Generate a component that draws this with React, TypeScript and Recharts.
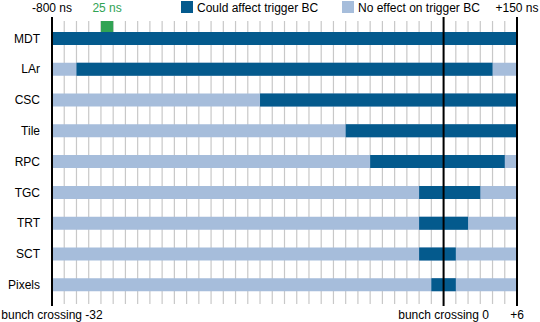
import React from "react";
import {
  BarChart,
  Bar,
  XAxis,
  YAxis,
  CartesianGrid,
  ReferenceLine,
} from "recharts";

const detectors = ["MDT", "LAr", "CSC", "Tile", "RPC", "TGC", "TRT", "SCT", "Pixels"];
// bunch crossings where the detector could affect the trigger BC
const affectStart = [-32, -30, -15, -8, -6, -2, -2, -2, -1];
const affectEnd = [6, 4, 6, 6, 5, 3, 2, 1, 1];

const windowStart = -32;
const windowEnd = 6;
const bunchCrossings = Array.from({ length: windowEnd - windowStart + 1 }, (_, i) => windowStart + i);

// one 25 ns bunch spacing marker, drawn above the MDT row
const markerRange = [-28, -27];

const topTicks = [-32, -27.5, 6];
const topLabels = ["-800 ns", "25 ns", "+150 ns"];
const bottomTicks = [-32, 0, 6];
const bottomLabels = ["bunch crossing -32", "bunch crossing 0", "+6"];
const markerLines = [-32, 0, 6];

const COLORS = {
  affect: "#045a8d",
  noEffect: "#a6bddb",
  marker: "#31a354",
  grid: "#c8c8c8",
  text: "#000",
};

const FONT = '"Liberation Sans", Arial, Helvetica, sans-serif';

const data = detectors.map((name, i) => ({
  name,
  window: [windowStart, windowEnd],
  affect: [affectStart[i], affectEnd[i]],
  marker: i === 0 ? markerRange : null,
}));

const TopTick = (props: any) => {
  const { x, y, payload } = props;
  const idx = topTicks.indexOf(payload.value);
  if (idx < 0) return null;
  return (
    <text
      x={x}
      y={y}
      dy={-9}
      textAnchor="middle"
      fontSize={12}
      fontFamily={FONT}
      fill={idx === 1 ? COLORS.marker : COLORS.text}
    >
      {topLabels[idx]}
    </text>
  );
};

const BottomTick = (props: any) => {
  const { x, y, payload } = props;
  const idx = bottomTicks.indexOf(payload.value);
  if (idx < 0) return null;
  return (
    <text x={x} y={y} dy={14.5} textAnchor="middle" fontSize={12} fontFamily={FONT} fill={COLORS.text}>
      {bottomLabels[idx]}
    </text>
  );
};

const ThickLine = (props: any) => {
  const top = Math.min(props.y1, props.y2);
  const bottom = Math.max(props.y1, props.y2);
  return <line x1={props.x1} x2={props.x2} y1={top - 4} y2={bottom + 2} stroke="#000" strokeWidth={2} />;
};

const MarkerShape = (props: any) => {
  const { x, y, width } = props;
  if (!width) return null;
  return <rect x={x} y={y - 11} width={width} height={11} fill={COLORS.marker} />;
};

export default function App() {
  return (
    <div style={{ position: "absolute", left: 0, top: 0, width: 540, height: 322, background: "#fff" }}>
      <BarChart
        width={540}
        height={322}
        data={data}
        layout="vertical"
        margin={{ top: 0, right: 23, bottom: 0, left: 0 }}
        barSize={13}
        barGap={-13}
        style={{ fontFamily: FONT }}
      >
        <CartesianGrid horizontal={false} xAxisId="bc" stroke={COLORS.grid} strokeWidth={1.2} />
        <XAxis
          xAxisId="top"
          orientation="top"
          type="number"
          domain={[windowStart, windowEnd]}
          allowDataOverflow
          ticks={topTicks}
          interval={0}
          height={21}
          axisLine={false}
          tickLine={false}
          tickSize={0}
          tickMargin={0}
          tick={<TopTick />}
        />
        <XAxis
          xAxisId="bc"
          orientation="bottom"
          type="number"
          domain={[windowStart, windowEnd]}
          allowDataOverflow
          ticks={bunchCrossings}
          interval={0}
          height={18}
          axisLine={false}
          tickLine={false}
          tickSize={0}
          tickMargin={0}
          tick={<BottomTick />}
        />
        <YAxis
          type="category"
          dataKey="name"
          width={52}
          padding={{ top: 2, bottom: 4 }}
          axisLine={false}
          tickLine={false}
          tickSize={6}
          tickMargin={6}
          tick={{ fill: COLORS.text, fontSize: 12, fontFamily: FONT }}
          interval={0}
        />
        <Bar xAxisId="bc" dataKey="window" fill={COLORS.noEffect} isAnimationActive={false} />
        <Bar xAxisId="bc" dataKey="affect" fill={COLORS.affect} isAnimationActive={false} />
        <Bar xAxisId="bc" dataKey="marker" fill={COLORS.marker} shape={<MarkerShape />} isAnimationActive={false} />
        {markerLines.map((v) => (
          <ReferenceLine key={v} xAxisId="bc" x={v} stroke="#000" strokeWidth={2} shape={<ThickLine />} />
        ))}
      </BarChart>
      <svg width={540} height={20} style={{ position: "absolute", left: 0, top: 0 }}>
        <rect x={181} y={1} width={12} height={12} fill={COLORS.affect} />
        <text x={197} y={12} fontSize={12} fontFamily={FONT} fill={COLORS.text}>
          Could affect trigger BC
        </text>
        <rect x={342} y={1} width={12} height={12} fill={COLORS.noEffect} />
        <text x={358} y={12} fontSize={12} fontFamily={FONT} fill={COLORS.text}>
          No effect on trigger BC
        </text>
      </svg>
    </div>
  );
}
